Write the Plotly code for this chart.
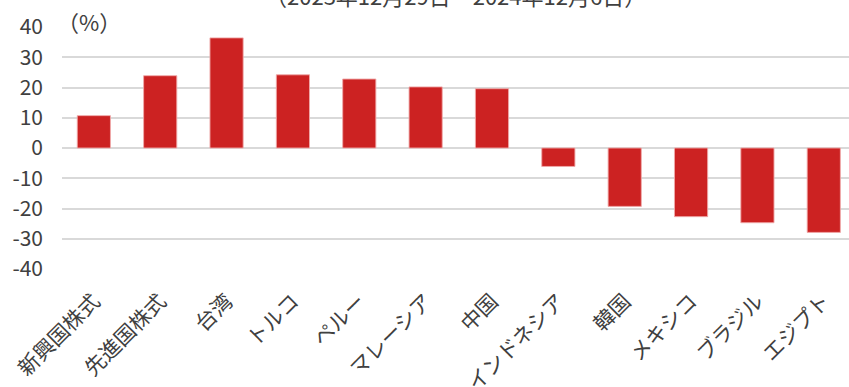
import plotly.graph_objects as go

categories = ["新興国株式", "先進国株式", "台湾", "トルコ", "ペルー", "マレーシア",
              "中国", "インドネシア", "韓国", "メキシコ", "ブラジル", "エジプト"]
values = [10.7, 23.9, 36.4, 24.2, 22.8, 20.2, 19.6, -6.1, -19.3, -22.7, -24.7, -27.9]
y_ticks = [40, 30, 20, 10, 0, -10, -20, -30, -40]
title_text = "（2023年12月29日～2024年12月6日）"
unit_text = "（%）"

FONT = "Noto Sans CJK JP"
TXT = "#404040"

fig = go.Figure(go.Bar(
    x=categories, y=values,
    marker=dict(color="#CC2222", line=dict(color="rgba(240,170,170,0.9)", width=1)),
    width=0.5,
))

fig.update_layout(
    width=849, height=387,
    margin=dict(l=62, r=0, t=27, b=118),
    paper_bgcolor="white", plot_bgcolor="white",
    showlegend=False,
    font=dict(family=FONT, color=TXT, size=18),
    xaxis=dict(tickangle=-45, tickfont=dict(size=21, color=TXT, family=FONT),
               range=[-0.48, 11.38], automargin=False,
               showgrid=False, showline=False, ticks="", ticklabelstandoff=15),
    yaxis=dict(range=[-40, 40], tickvals=y_ticks, ticktext=[str(v) for v in y_ticks],
               automargin=False,
               showgrid=True, gridcolor="#D9D9D9", gridwidth=2,
               zeroline=True, zerolinecolor="#D9D9D9", zerolinewidth=2,
               tickfont=dict(size=21, color=TXT, family=FONT),
               ticks="", ticklabelstandoff=18),
    annotations=[
        dict(text=title_text, xref="paper", yref="paper", x=0.5, y=1.133,
             xanchor="center", yanchor="middle", showarrow=False,
             font=dict(size=22, color=TXT, family=FONT)),
        dict(text=unit_text, xref="paper", yref="paper", x=-0.009, y=1.026,
             xanchor="left", yanchor="middle", showarrow=False,
             font=dict(size=22, color=TXT, family=FONT)),
    ],
)

fig.write_html("out.html")
